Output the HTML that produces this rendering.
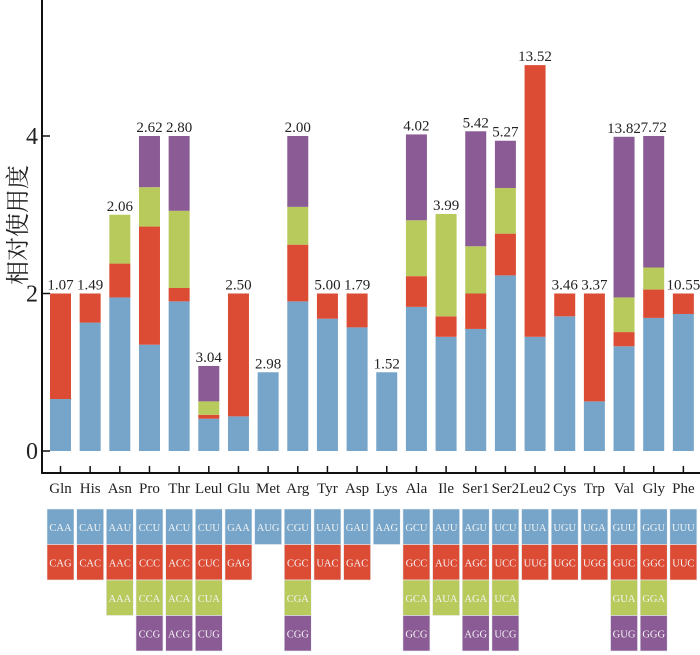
<!DOCTYPE html>
<html><head><meta charset="utf-8"><style>
body{margin:0;background:#fff;width:700px;height:655px;overflow:hidden}
svg{display:block}
text{font-family:"Liberation Serif","Noto Serif CJK SC",serif}
</style></head><body>
<svg id="chart" width="700" height="655" viewBox="0 0 700 655" xmlns="http://www.w3.org/2000/svg">
<g id="axes"></g>
<g id="bars"></g>
<g id="table"></g>
<text x="0" y="0" transform="translate(26,225) rotate(-90)" text-anchor="middle" font-size="24" font-family="'Noto Sans CJK SC',sans-serif" fill="#222">相对使用度</text>
</svg>
<script>
const categories=["Gln","His","Asn","Pro","Thr","Leul","Glu","Met","Arg","Tyr","Asp","Lys","Ala","Ile","Ser1","Ser2","Leu2","Cys","Trp","Val","Gly","Phe"];
const seriesBlue=[0.66,1.63,1.95,1.35,1.90,0.41,0.44,1.00,1.90,1.68,1.57,1.00,1.83,1.45,1.55,2.23,1.45,1.71,0.63,1.33,1.69,1.74];
const seriesRed=[1.34,0.37,0.43,1.50,0.17,0.05,1.56,null,0.72,0.32,0.43,null,0.39,0.26,0.45,0.53,3.45,0.29,1.37,0.18,0.36,0.26];
const seriesGreen=[null,null,0.62,0.50,0.98,0.17,null,null,0.48,null,null,null,0.71,1.30,0.60,0.58,null,null,null,0.44,0.28,null];
const seriesPurple=[null,null,null,0.65,0.95,0.45,null,null,0.90,null,null,null,1.09,null,1.46,0.60,null,null,null,2.04,1.67,null];
const topLabels=["1.07","1.49","2.06","2.62","2.80","3.04","2.50","2.98","2.00","5.00","1.79","1.52","4.02","3.99","5.42","5.27","13.52","3.46","3.37","13.82","7.72","10.55"];
const codonsBlue=["CAA","CAU","AAU","CCU","ACU","CUU","GAA","AUG","CGU","UAU","GAU","AAG","GCU","AUU","AGU","UCU","UUA","UGU","UGA","GUU","GGU","UUU"];
const codonsRed=["CAG","CAC","AAC","CCC","ACC","CUC","GAG","","CGC","UAC","GAC","","GCC","AUC","AGC","UCC","UUG","UGC","UGG","GUC","GGC","UUC"];
const codonsGreen=["","","AAA","CCA","ACA","CUA","","","CGA","","","","GCA","AUA","AGA","UCA","","","","GUA","GGA",""];
const codonsPurple=["","","CCG","ACG","CUG","","","","CGG"].length?["","","","CCG","ACG","CUG","","","CGG","","","","GCG","","AGG","UCG","","","","GUG","GGG",""]:[];
const yTicks=[0,2,4];

const NS="http://www.w3.org/2000/svg";
const colors=["#76a5c9","#dc4b33","#b8ca5c","#8b5b95"];
const series=[seriesBlue,seriesRed,seriesGreen,seriesPurple];
const codonRows=[codonsBlue,codonsRed,codonsGreen,codonsPurple];
const y0=451, unit=78.75, x0=50, step=29.66, bw=21;
const yScale=v=>y0-v*unit;
const xCenter=i=>x0+i*step+bw/2;
function mk(tag,attrs,parent){const e=document.createElementNS(NS,tag);for(const k in attrs)e.setAttribute(k,attrs[k]);parent.appendChild(e);return e;}
const axes=document.getElementById('axes'),bars=document.getElementById('bars'),table=document.getElementById('table');

let l=mk('line',{x1:42,y1:0,x2:42,y2:474,stroke:'#111','stroke-width':2},axes);


l=mk('line',{x1:41,y1:473,x2:700,y2:473,stroke:'#111','stroke-width':2},axes);


yTicks.forEach(v=>{
  const t=mk('line',{x1:42,y1:yScale(v),x2:50,y2:yScale(v),stroke:'#111','stroke-width':1.5},axes);
  
  
  const tx=mk('text',{x:38,y:yScale(v)+8,'text-anchor':'end','font-size':24,fill:'#222'},axes);
  tx.textContent=v;
  
  
});
categories.forEach((c,i)=>{
  const cx=xCenter(i);
  const t=mk('line',{x1:cx,y1:466,x2:cx,y2:473,stroke:'#111','stroke-width':1.5},axes);
  
  
  const tx=mk('text',{x:cx,y:493,'text-anchor':'middle','font-size':15,fill:'#222'},axes);
  tx.textContent=c;
  
  
  let cum=0;
  series.forEach((s,k)=>{
    const v=s[i]; if(v==null) return;
    const r=mk('rect',{x:x0+i*step,y:yScale(cum+v),width:bw,height:v*unit,fill:colors[k]},bars);
    
    
    cum+=v;
  });
  const lb=mk('text',{x:cx,y:yScale(cum)-4,'text-anchor':'middle','font-size':15,fill:'#222'},bars);
  lb.textContent=topLabels[i];
  
  
  codonRows.forEach((row,k)=>{
    const cd=row[i]; if(!cd) return;
    const ry=509+k*35.5;
    const r=mk('rect',{x:cx-13.5,y:ry,width:27,height:35.5,fill:colors[k],stroke:'#e8eef2','stroke-width':0.6},table);
    
    
    const tx=mk('text',{x:cx,y:ry+22,'text-anchor':'middle','font-size':10.5,fill:'#f4f4f4'},table);
    tx.textContent=cd;
    
    
  });
});
</script>
</body></html>
